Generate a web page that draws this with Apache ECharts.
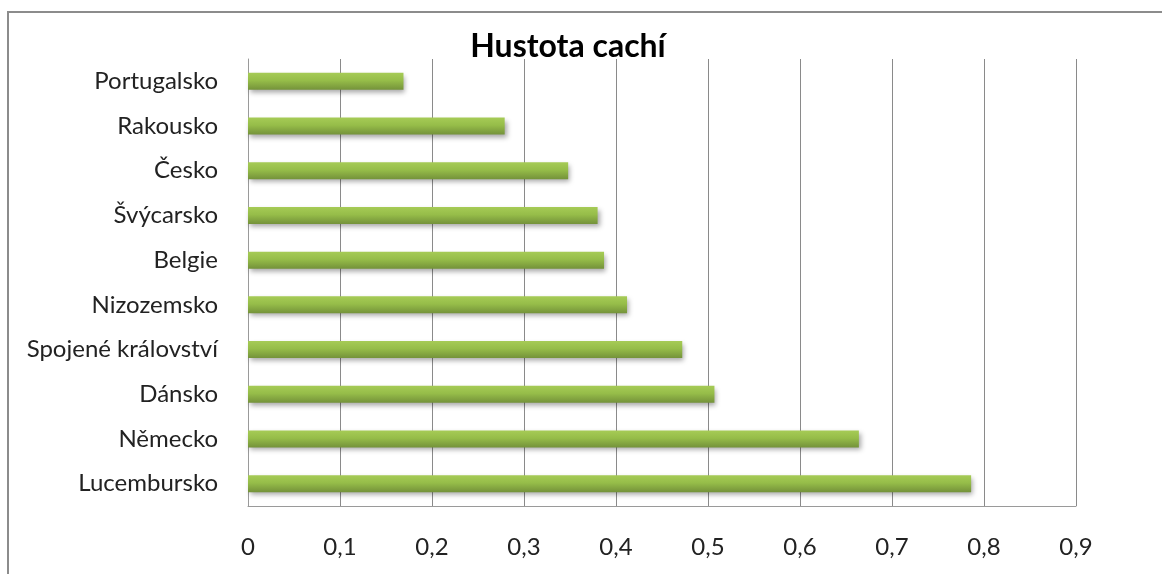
<!DOCTYPE html>
<html>
<head>
<meta charset="utf-8">
<script src="https://cdn.jsdelivr.net/npm/echarts@6/dist/echarts.min.js"></script>
<style>
  html, body { margin: 0; padding: 0; background: #fff; }
  #chart { width: 1162px; height: 574px; }
</style>
</head>
<body>
<div id="chart"></div>
<script>
// kategorie odshora dolů
const countries = ['Portugalsko', 'Rakousko', 'Česko', 'Švýcarsko', 'Belgie',
  'Nizozemsko', 'Spojené království', 'Dánsko', 'Německo', 'Lucembursko']
const density = [0.169, 0.279, 0.348, 0.380, 0.387, 0.412, 0.472, 0.507, 0.664, 0.786]
const xTicks = ['0', '0,1', '0,2', '0,3', '0,4', '0,5', '0,6', '0,7', '0,8', '0,9']

const chart = echarts.init(document.getElementById('chart'))
const font = 'Lato, Open Sans, sans-serif'

chart.setOption({
  animation: false,
  title: {
    text: 'Hustota cachí',
    left: 563,
    textAlign: 'center',
    top: 26,
    textStyle: { fontFamily: font, fontSize: 32, fontWeight: 'bold', color: '#000' }
  },
  graphic: [{
    type: 'rect',
    shape: { x: 8, y: 12, width: 1170, height: 580 },
    style: { fill: 'none', stroke: '#8c8c8c', lineWidth: 2 },
    silent: true
  }],
  grid: { left: 248, right: 86, top: 59, bottom: 68 },
  xAxis: {
    type: 'value',
    min: 0,
    max: 0.9,
    interval: 0.1,
    axisLine: { show: true, lineStyle: { color: '#9a9a9a' } },
    axisTick: { show: false },
    splitLine: { show: true, lineStyle: { color: '#8a8a8a', width: 1 } },
    axisLabel: {
      margin: 29,
      fontFamily: font,
      fontSize: 24,
      color: '#222',
      formatter: (v) => xTicks[Math.round(v * 10)]
    }
  },
  yAxis: {
    type: 'category',
    data: countries,
    inverse: true,
    axisLine: { show: true, lineStyle: { color: '#9a9a9a' } },
    axisTick: { show: false },
    axisLabel: { margin: 30, fontFamily: font, fontSize: 24, color: '#222' }
  },
  series: [{
    type: 'bar',
    data: density,
    barWidth: 17,
    itemStyle: {
      color: new echarts.graphic.LinearGradient(0, 0, 0, 1, [
        { offset: 0, color: '#a6cb56' },
        { offset: 0.45, color: '#96bd49' },
        { offset: 1, color: '#74923a' }
      ]),
      shadowColor: 'rgba(0,0,0,0.35)',
      shadowBlur: 5,
      shadowOffsetX: 2,
      shadowOffsetY: 3
    }
  }]
})
</script>
</body>
</html>
